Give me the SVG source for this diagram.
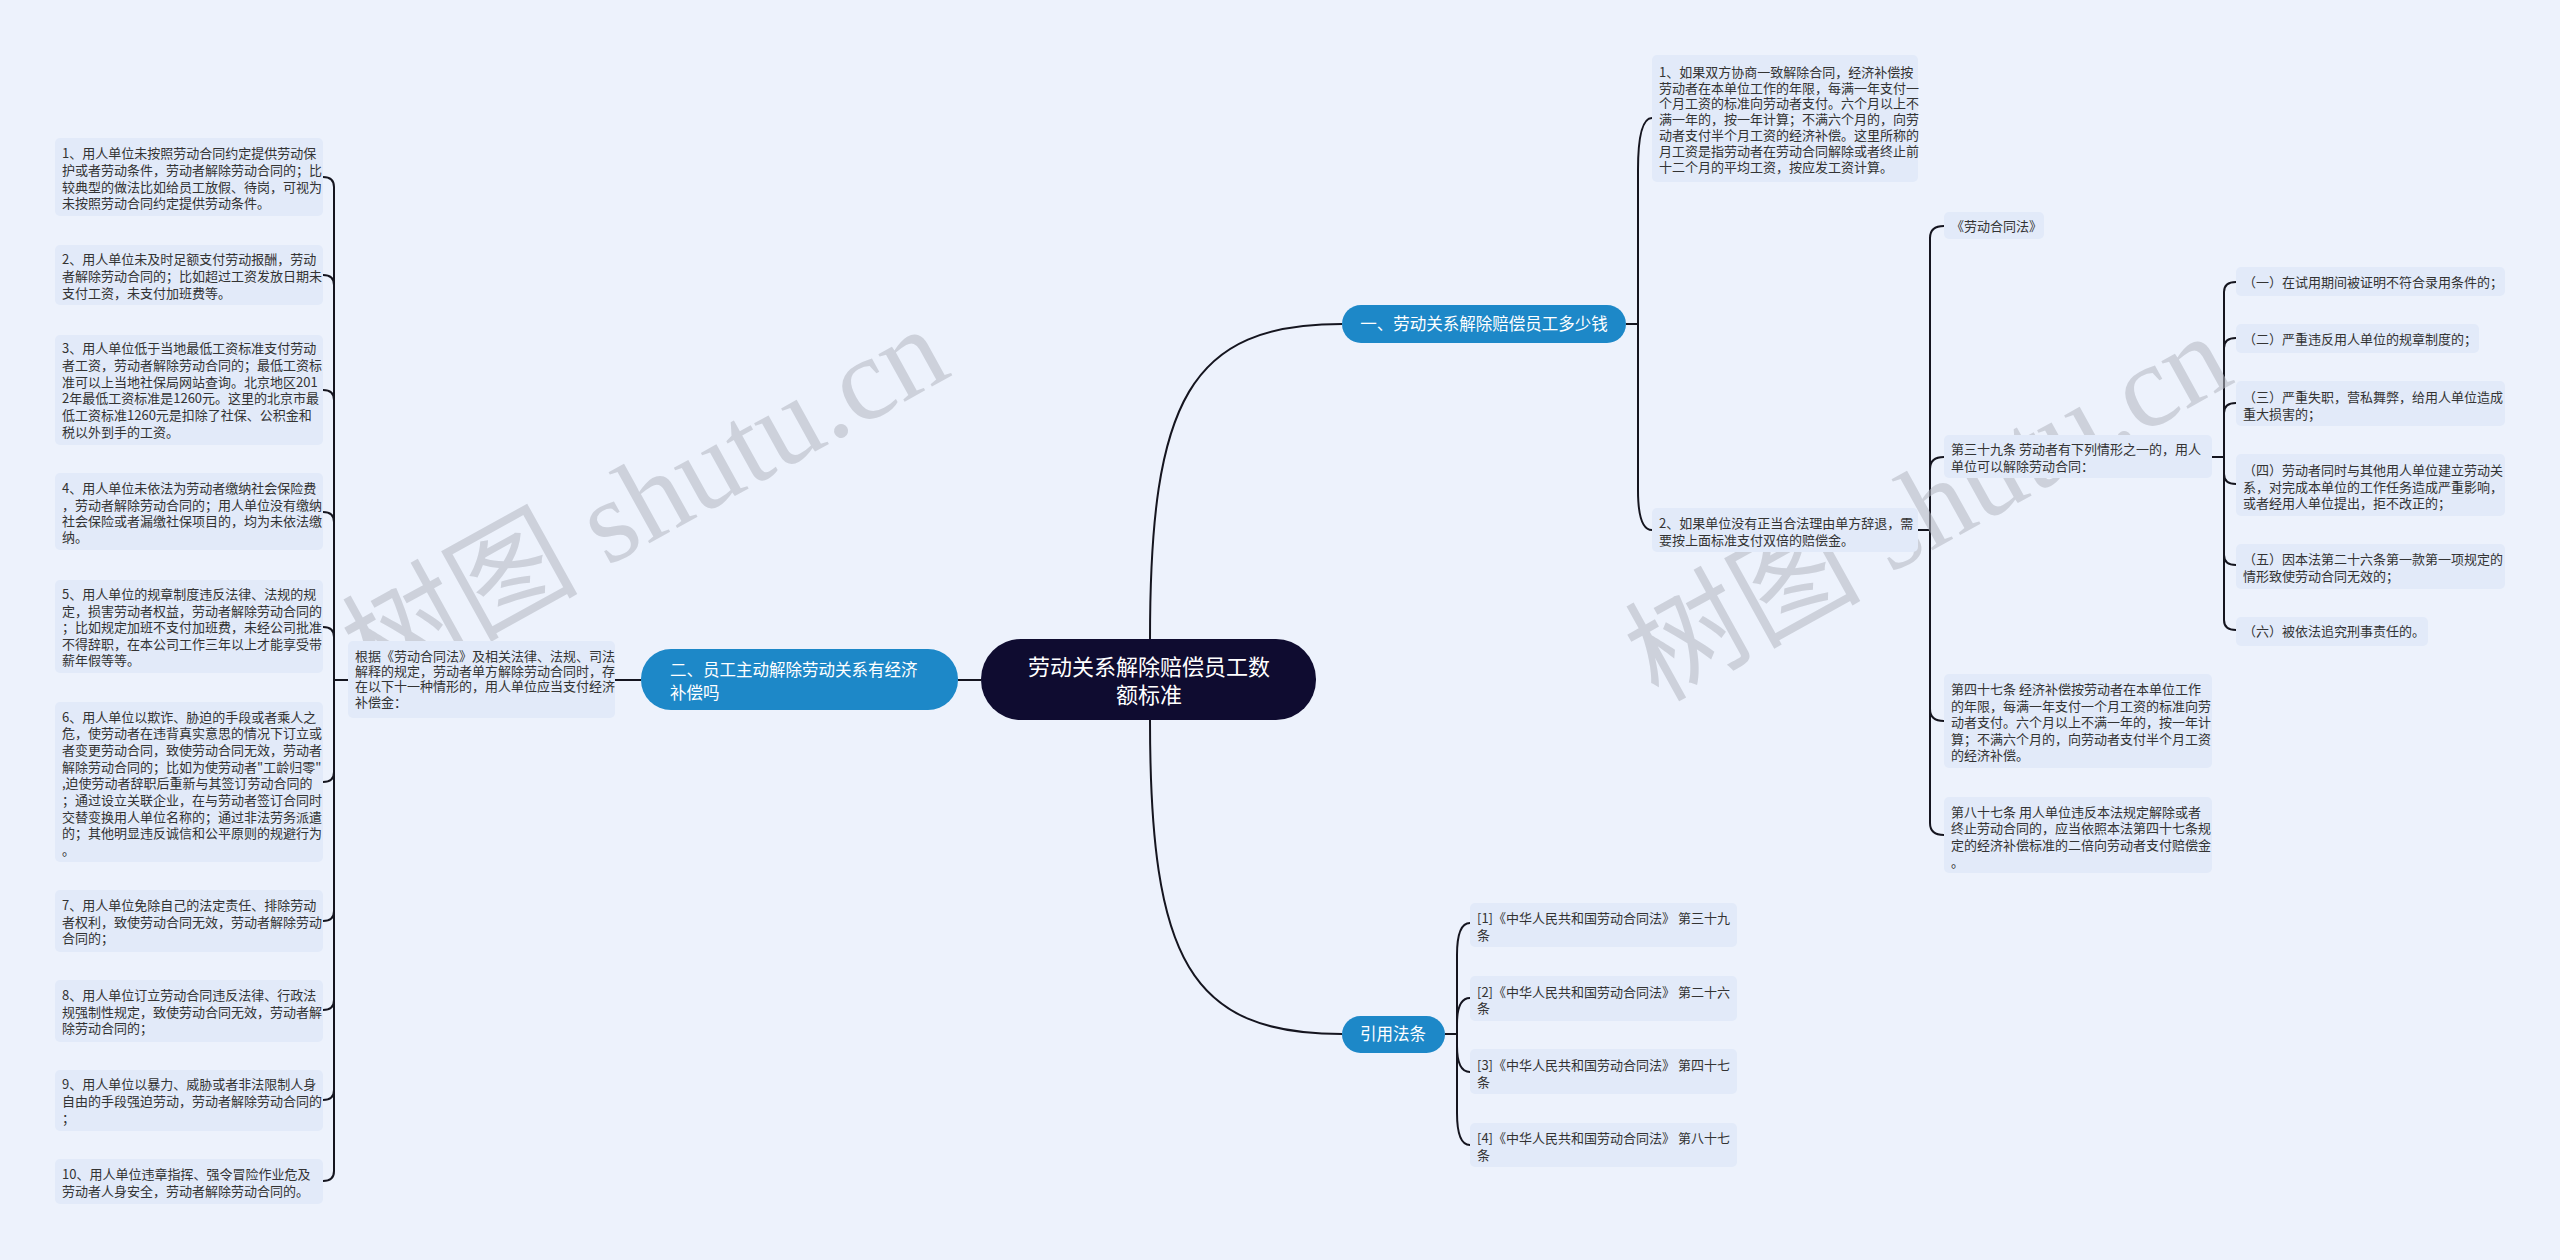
<svg xmlns="http://www.w3.org/2000/svg" width="2560" height="1260" viewBox="0 0 2560 1260">
<style>
.bg{fill:#edf2fc}
.box{fill:#e2eaf9}
.t{font-family:"Noto Sans CJK SC","Noto Sans",sans-serif;font-size:13px;fill:#333}
.br{fill:#1d88c8}
.bt{font-family:"Noto Sans CJK SC","Noto Sans",sans-serif;font-size:16.5px;fill:#fff}
.ct{font-family:"Noto Sans CJK SC","Noto Sans",sans-serif;font-size:22px;fill:#fff}
.ln{fill:none;stroke:#15151f;stroke-width:2}
.wm{font-family:"Liberation Serif","Noto Sans CJK SC",serif;font-size:118px;fill:#b3b7c1;opacity:0.55}
</style>
<rect class="bg" x="0" y="0" width="2560" height="1260"/>

<g id="connectors">
<path class="ln" d="M981,680 H958"/>
<path class="ln" d="M1150,639 C1150,400 1190,324 1342,324"/>
<path class="ln" d="M1150,720 C1150,960 1190,1034 1342,1034"/>
<path class="ln" d="M641,680 H615"/>
<path class="ln" d="M348,680 H334"/>
<path class="ln" d="M334,680 V187 Q334,177 323,177"/>
<path class="ln" d="M334,680 V285 Q334,275 323,275"/>
<path class="ln" d="M334,680 V400 Q334,390 323,390"/>
<path class="ln" d="M334,680 V522 Q334,512 323,512"/>
<path class="ln" d="M334,680 V637 Q334,627 323,627"/>
<path class="ln" d="M334,680 V772 Q334,782 323,782"/>
<path class="ln" d="M334,680 V911 Q334,921 323,921"/>
<path class="ln" d="M334,680 V1000 Q334,1010 323,1010"/>
<path class="ln" d="M334,680 V1090 Q334,1100 323,1100"/>
<path class="ln" d="M334,680 V1171 Q334,1181 323,1181"/>
<path class="ln" d="M1626,324 H1638"/>
<path class="ln" d="M1638,324 V170 Q1638,118 1652,118"/>
<path class="ln" d="M1638,324 V490 Q1638,530 1652,530"/>
<path class="ln" d="M1918,530 H1930"/>
<path class="ln" d="M1930,530 V238 Q1930,226 1944,226"/>
<path class="ln" d="M1930,530 V469 Q1930,457 1944,457"/>
<path class="ln" d="M1930,530 V709 Q1930,721 1944,721"/>
<path class="ln" d="M1930,530 V823 Q1930,835 1944,835"/>
<path class="ln" d="M2212,457 H2224"/>
<path class="ln" d="M2224,457 V292 Q2224,282 2236,282"/>
<path class="ln" d="M2224,457 V348 Q2224,338 2236,338"/>
<path class="ln" d="M2224,457 V413 Q2224,403 2236,403"/>
<path class="ln" d="M2224,457 V474 Q2224,484 2236,484"/>
<path class="ln" d="M2224,457 V555 Q2224,565 2236,565"/>
<path class="ln" d="M2224,457 V620 Q2224,630 2236,630"/>
<path class="ln" d="M1445,1034 H1457"/>
<path class="ln" d="M1457,1034 V955 Q1457,923 1470,923"/>
<path class="ln" d="M1457,1034 V1024 Q1457,998 1470,998"/>
<path class="ln" d="M1457,1034 V1046 Q1457,1072 1470,1072"/>
<path class="ln" d="M1457,1034 V1113 Q1457,1145 1470,1145"/>
</g>

<g id="watermarks">
<text class="wm" x="645" y="540" text-anchor="middle" transform="rotate(-29 645 500)">树图 shutu.cn</text>
<text class="wm" x="1928" y="547" text-anchor="middle" transform="rotate(-29 1928 507)">树图 shutu.cn</text>
</g>

<g id="center">
<rect x="981" y="639" width="335" height="81" rx="40" fill="#0f0c30"/>
<text class="ct" x="1149" y="675" text-anchor="middle">劳动关系解除赔偿员工数</text>
<text class="ct" x="1149" y="703" text-anchor="middle">额标准</text>
</g>

<g id="n-yi">
<rect class="br" x="1342" y="305" width="284" height="38" rx="19"/>
<text class="bt" x="1484" y="330" text-anchor="middle">一、劳动关系解除赔偿员工多少钱</text>
</g>

<g id="n-er">
<rect class="br" x="641" y="649" width="317" height="61" rx="30"/>
<text class="bt" x="670" y="676">二、员工主动解除劳动关系有经济</text>
<text class="bt" x="670" y="699">补偿吗</text>
</g>

<g id="n-ref">
<rect class="br" x="1342" y="1016" width="103" height="37" rx="18.5"/>
<text class="bt" x="1393" y="1040" text-anchor="middle">引用法条</text>
</g>

<g id="n-er-desc">
<rect class="box" x="348" y="641" width="267" height="77" rx="5"/>
<text class="t" x="355" y="661">根据《劳动合同法》及相关法律、法规、司法</text>
<text class="t" x="355" y="676">解释的规定，劳动者单方解除劳动合同时，存</text>
<text class="t" x="355" y="691">在以下十一种情形的，用人单位应当支付经济</text>
<text class="t" x="355" y="707">补偿金：</text>
</g>

<g id="l1">
<rect class="box" x="55" y="138" width="268" height="78" rx="5"/>
<text class="t" x="62" y="158">1、用人单位未按照劳动合同约定提供劳动保</text>
<text class="t" x="62" y="175">护或者劳动条件，劳动者解除劳动合同的；比</text>
<text class="t" x="62" y="192">较典型的做法比如给员工放假、待岗，可视为</text>
<text class="t" x="62" y="208">未按照劳动合同约定提供劳动条件。</text>
</g>
<g id="l2">
<rect class="box" x="55" y="245" width="268" height="60" rx="5"/>
<text class="t" x="62" y="264">2、用人单位未及时足额支付劳动报酬，劳动</text>
<text class="t" x="62" y="281">者解除劳动合同的；比如超过工资发放日期未</text>
<text class="t" x="62" y="298">支付工资，未支付加班费等。</text>
</g>
<g id="l3">
<rect class="box" x="55" y="335" width="268" height="110" rx="5"/>
<text class="t" x="62" y="353">3、用人单位低于当地最低工资标准支付劳动</text>
<text class="t" x="62" y="370">者工资，劳动者解除劳动合同的；最低工资标</text>
<text class="t" x="62" y="387">准可以上当地社保局网站查询。北京地区201</text>
<text class="t" x="62" y="403">2年最低工资标准是1260元。这里的北京市最</text>
<text class="t" x="62" y="420">低工资标准1260元是扣除了社保、公积金和</text>
<text class="t" x="62" y="437">税以外到手的工资。</text>
</g>
<g id="l4">
<rect class="box" x="55" y="473" width="268" height="77" rx="5"/>
<text class="t" x="62" y="493">4、用人单位未依法为劳动者缴纳社会保险费</text>
<text class="t" x="62" y="510">，劳动者解除劳动合同的；用人单位没有缴纳</text>
<text class="t" x="62" y="526">社会保险或者漏缴社保项目的，均为未依法缴</text>
<text class="t" x="62" y="542">纳。</text>
</g>
<g id="l5">
<rect class="box" x="55" y="580" width="268" height="93" rx="5"/>
<text class="t" x="62" y="599">5、用人单位的规章制度违反法律、法规的规</text>
<text class="t" x="62" y="616">定，损害劳动者权益，劳动者解除劳动合同的</text>
<text class="t" x="62" y="632">；比如规定加班不支付加班费，未经公司批准</text>
<text class="t" x="62" y="649">不得辞职，在本公司工作三年以上才能享受带</text>
<text class="t" x="62" y="665">薪年假等等。</text>
</g>
<g id="l6">
<rect class="box" x="55" y="702" width="268" height="160" rx="5"/>
<text class="t" x="62" y="722">6、用人单位以欺诈、胁迫的手段或者乘人之</text>
<text class="t" x="62" y="738">危，使劳动者在违背真实意思的情况下订立或</text>
<text class="t" x="62" y="755">者变更劳动合同，致使劳动合同无效，劳动者</text>
<text class="t" x="62" y="772">解除劳动合同的；比如为使劳动者"工龄归零"</text>
<text class="t" x="62" y="788">,迫使劳动者辞职后重新与其签订劳动合同的</text>
<text class="t" x="62" y="805">；通过设立关联企业，在与劳动者签订合同时</text>
<text class="t" x="62" y="822">交替变换用人单位名称的；通过非法劳务派遣</text>
<text class="t" x="62" y="838">的；其他明显违反诚信和公平原则的规避行为</text>
<text class="t" x="62" y="855">。</text>
</g>
<g id="l7">
<rect class="box" x="55" y="890" width="268" height="62" rx="5"/>
<text class="t" x="62" y="910">7、用人单位免除自己的法定责任、排除劳动</text>
<text class="t" x="62" y="927">者权利，致使劳动合同无效，劳动者解除劳动</text>
<text class="t" x="62" y="943">合同的；</text>
</g>
<g id="l8">
<rect class="box" x="55" y="980" width="268" height="62" rx="5"/>
<text class="t" x="62" y="1000">8、用人单位订立劳动合同违反法律、行政法</text>
<text class="t" x="62" y="1017">规强制性规定，致使劳动合同无效，劳动者解</text>
<text class="t" x="62" y="1033">除劳动合同的；</text>
</g>
<g id="l9">
<rect class="box" x="55" y="1070" width="268" height="61" rx="5"/>
<text class="t" x="62" y="1089">9、用人单位以暴力、威胁或者非法限制人身</text>
<text class="t" x="62" y="1106">自由的手段强迫劳动，劳动者解除劳动合同的</text>
<text class="t" x="62" y="1123">；</text>
</g>
<g id="l10">
<rect class="box" x="55" y="1159" width="268" height="45" rx="5"/>
<text class="t" x="62" y="1179">10、用人单位违章指挥、强令冒险作业危及</text>
<text class="t" x="62" y="1196">劳动者人身安全，劳动者解除劳动合同的。</text>
</g>

<g id="r1">
<rect class="box" x="1652" y="55" width="266" height="127" rx="5"/>
<text class="t" x="1659" y="77">1、如果双方协商一致解除合同，经济补偿按</text>
<text class="t" x="1659" y="93">劳动者在本单位工作的年限，每满一年支付一</text>
<text class="t" x="1659" y="108">个月工资的标准向劳动者支付。六个月以上不</text>
<text class="t" x="1659" y="124">满一年的，按一年计算；不满六个月的，向劳</text>
<text class="t" x="1659" y="140">动者支付半个月工资的经济补偿。这里所称的</text>
<text class="t" x="1659" y="156">月工资是指劳动者在劳动合同解除或者终止前</text>
<text class="t" x="1659" y="172">十二个月的平均工资，按应发工资计算。</text>
</g>
<g id="r2">
<rect class="box" x="1652" y="508" width="266" height="44" rx="5"/>
<text class="t" x="1659" y="528">2、如果单位没有正当合法理由单方辞退，需</text>
<text class="t" x="1659" y="545">要按上面标准支付双倍的赔偿金。</text>
</g>

<g id="law">
<rect class="box" x="1944" y="212" width="100" height="27" rx="5"/>
<text class="t" x="1951" y="231">《劳动合同法》</text>
</g>
<g id="a39">
<rect class="box" x="1944" y="435" width="268" height="43" rx="5"/>
<text class="t" x="1951" y="454">第三十九条 劳动者有下列情形之一的，用人</text>
<text class="t" x="1951" y="471">单位可以解除劳动合同：</text>
</g>
<g id="a47">
<rect class="box" x="1944" y="674" width="268" height="94" rx="5"/>
<text class="t" x="1951" y="694">第四十七条 经济补偿按劳动者在本单位工作</text>
<text class="t" x="1951" y="711">的年限，每满一年支付一个月工资的标准向劳</text>
<text class="t" x="1951" y="727">动者支付。六个月以上不满一年的，按一年计</text>
<text class="t" x="1951" y="744">算；不满六个月的，向劳动者支付半个月工资</text>
<text class="t" x="1951" y="760">的经济补偿。</text>
</g>
<g id="a87">
<rect class="box" x="1944" y="797" width="268" height="76" rx="5"/>
<text class="t" x="1951" y="817">第八十七条 用人单位违反本法规定解除或者</text>
<text class="t" x="1951" y="833">终止劳动合同的，应当依照本法第四十七条规</text>
<text class="t" x="1951" y="850">定的经济补偿标准的二倍向劳动者支付赔偿金</text>
<text class="t" x="1951" y="867">。</text>
</g>

<g id="i1">
<rect class="box" x="2236" y="267" width="269" height="29" rx="5"/>
<text class="t" x="2243" y="287">（一）在试用期间被证明不符合录用条件的；</text>
</g>
<g id="i2">
<rect class="box" x="2236" y="324" width="243" height="29" rx="5"/>
<text class="t" x="2243" y="344">（二）严重违反用人单位的规章制度的；</text>
</g>
<g id="i3">
<rect class="box" x="2236" y="381" width="269" height="45" rx="5"/>
<text class="t" x="2243" y="402">（三）严重失职，营私舞弊，给用人单位造成</text>
<text class="t" x="2243" y="419">重大损害的；</text>
</g>
<g id="i4">
<rect class="box" x="2236" y="454" width="269" height="62" rx="5"/>
<text class="t" x="2243" y="475">（四）劳动者同时与其他用人单位建立劳动关</text>
<text class="t" x="2243" y="492">系，对完成本单位的工作任务造成严重影响，</text>
<text class="t" x="2243" y="508">或者经用人单位提出，拒不改正的；</text>
</g>
<g id="i5">
<rect class="box" x="2236" y="544" width="269" height="45" rx="5"/>
<text class="t" x="2243" y="564">（五）因本法第二十六条第一款第一项规定的</text>
<text class="t" x="2243" y="581">情形致使劳动合同无效的；</text>
</g>
<g id="i6">
<rect class="box" x="2236" y="617" width="192" height="29" rx="5"/>
<text class="t" x="2243" y="636">（六）被依法追究刑事责任的。</text>
</g>

<g id="ref1">
<rect class="box" x="1470" y="903" width="267" height="44" rx="5"/>
<text class="t" x="1477" y="923">[1]《中华人民共和国劳动合同法》 第三十九</text>
<text class="t" x="1477" y="940">条</text>
</g>
<g id="ref2">
<rect class="box" x="1470" y="976" width="267" height="45" rx="5"/>
<text class="t" x="1477" y="997">[2]《中华人民共和国劳动合同法》 第二十六</text>
<text class="t" x="1477" y="1013">条</text>
</g>
<g id="ref3">
<rect class="box" x="1470" y="1049" width="267" height="45" rx="5"/>
<text class="t" x="1477" y="1070">[3]《中华人民共和国劳动合同法》 第四十七</text>
<text class="t" x="1477" y="1087">条</text>
</g>
<g id="ref4">
<rect class="box" x="1470" y="1123" width="267" height="44" rx="5"/>
<text class="t" x="1477" y="1143">[4]《中华人民共和国劳动合同法》 第八十七</text>
<text class="t" x="1477" y="1160">条</text>
</g>
</svg>
